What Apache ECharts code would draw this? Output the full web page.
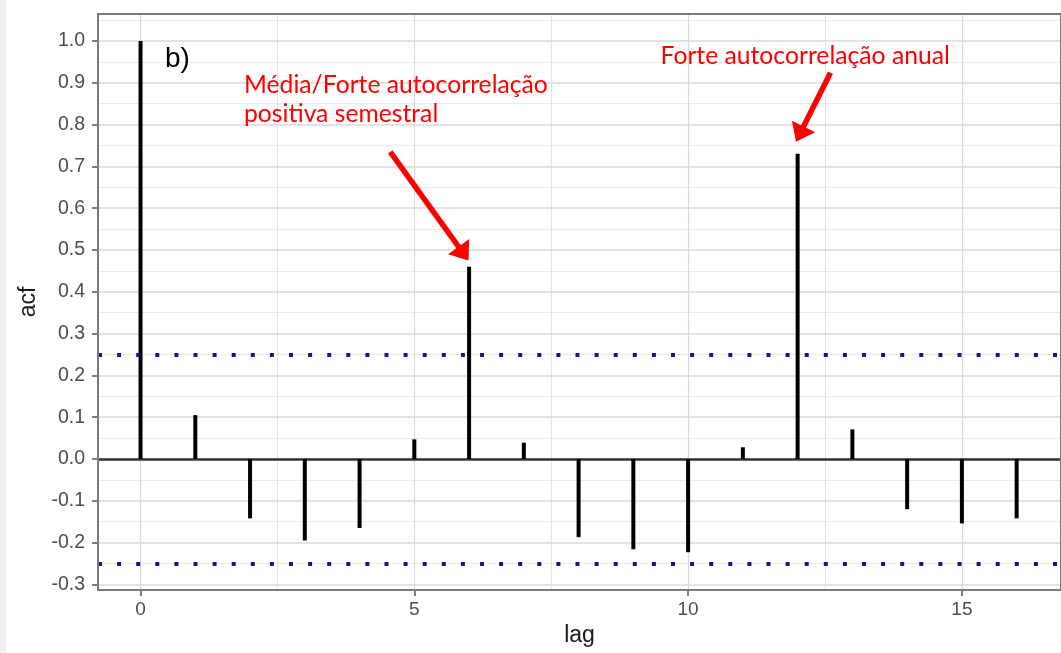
<!DOCTYPE html>
<html>
<head>
<meta charset="utf-8">
<script src="https://cdn.jsdelivr.net/npm/echarts@6/dist/echarts.min.js"></script>
<style>
  html, body { margin: 0; padding: 0; background: #ffffff; }
  #chart { width: 1061px; height: 653px; }
</style>
</head>
<body>
<div id="chart"></div>
<script>
// Sample autocorrelation function by lag
const lags = [0, 1, 2, 3, 4, 5, 6, 7, 8, 9, 10, 11, 12, 13, 14, 15, 16];
const acfValues = [1.0, 0.105, -0.142, -0.195, -0.165, 0.047, 0.46, 0.039,
                   -0.187, -0.216, -0.223, 0.028, 0.73, 0.071, -0.12, -0.154, -0.142];

// Significance bounds
const confBounds = [0.25, -0.25];

// Axis ranges, ticks and grid lines
const xRange = [-0.777, 16.81];
const yRange = [-0.3134, 1.0646];
const xTickValues = [0, 5, 10, 15];
const xMinorGrid = [2.5, 7.5, 12.5];
const yTickValues = [-0.3, -0.2, -0.1, 0.0, 0.1, 0.2, 0.3, 0.4, 0.5, 0.6, 0.7, 0.8, 0.9, 1.0];
const yMinorGrid = [-0.25, -0.15, -0.05, 0.05, 0.15, 0.25, 0.35, 0.45, 0.55, 0.65, 0.75, 0.85, 0.95, 1.05];

// Panel tag and callouts
const panelTag = 'b)';
const semestralText = ['Média/Forte autocorrelação', 'positiva semestral'];
const anualText = ['Forte autocorrelação anual'];
// Arrow endpoints in (lag, acf) space: [start, tip]
const semestralArrow = [[4.56, 0.735], [5.99, 0.475]];
const anualArrow = [[12.60, 0.924], [11.97, 0.759]];

const chart = echarts.init(document.getElementById('chart'), null, { renderer: 'canvas' });

function lineMarker(values, axisKey, style, z) {
  return {
    type: 'line',
    data: [],
    silent: true,
    z: z,
    markLine: {
      silent: true,
      z: z,
      symbol: 'none',
      animation: false,
      label: { show: false },
      emphasis: { disabled: true },
      lineStyle: style,
      data: values.map(v => ({ [axisKey]: v }))
    }
  };
}

const axisFont = 'Liberation Sans, Arial, sans-serif';

chart.setOption({
  animation: false,
  backgroundColor: '#ffffff',
  grid: {
    left: 98, top: 14, right: -10, bottom: 63,
    show: true,
    z: 5,
    backgroundColor: 'transparent',
    borderColor: '#7a7a7a',
    borderWidth: 2
  },
  xAxis: {
    type: 'value',
    min: xRange[0], max: xRange[1],
    name: 'lag',
    nameLocation: 'middle',
    nameGap: 34,
    nameTextStyle: { fontFamily: axisFont, fontSize: 23, color: '#1a1a1a' },
    axisLine: { show: false, onZero: false },
    axisTick: { show: true, length: 6, customValues: xTickValues,
                lineStyle: { color: '#555555', width: 1.5 } },
    axisLabel: { customValues: xTickValues, margin: 10,
                 fontFamily: axisFont, fontSize: 19, color: '#4d4d4d' },
    splitLine: { show: false }
  },
  yAxis: {
    type: 'value',
    min: yRange[0], max: yRange[1],
    name: 'acf',
    nameLocation: 'middle',
    nameGap: 56,
    nameTextStyle: { fontFamily: axisFont, fontSize: 23, color: '#1a1a1a' },
    axisLine: { show: false, onZero: false },
    axisTick: { show: true, length: 6, customValues: yTickValues,
                lineStyle: { color: '#555555', width: 1.5 } },
    axisLabel: { customValues: yTickValues, margin: 13,
                 fontFamily: axisFont, fontSize: 19.5, color: '#4d4d4d',
                 formatter: v => v.toFixed(1) },
    splitLine: { show: false }
  },
  series: [
    lineMarker(yMinorGrid, 'yAxis', { color: '#ebebeb', width: 1, type: 'solid' }, 1),
    lineMarker(xMinorGrid, 'xAxis', { color: '#e3e3e3', width: 1, type: 'solid' }, 1),
    lineMarker(yTickValues, 'yAxis', { color: '#dadada', width: 1.6, type: 'solid' }, 1),
    lineMarker(xTickValues, 'xAxis', { color: '#dadada', width: 1.2, type: 'solid' }, 1),
    lineMarker([0], 'yAxis', { color: '#333333', width: 2.6, type: 'solid' }, 2),
    {
      type: 'bar',
      z: 3,
      barWidth: 4,
      silent: true,
      itemStyle: { color: '#000000' },
      data: lags.map((l, i) => [l, acfValues[i]])
    },
    lineMarker(confBounds, 'yAxis',
      { color: '#16168c', width: 4, type: [4, 15.1], cap: 'butt' }, 4)
  ]
});

// Callout arrows anchored to data coordinates
function arrowGraphics(pts) {
  const p0 = chart.convertToPixel({ gridIndex: 0 }, pts[0]);
  const p1 = chart.convertToPixel({ gridIndex: 0 }, pts[1]);
  const dx = p1[0] - p0[0], dy = p1[1] - p0[1];
  const len = Math.hypot(dx, dy);
  const ux = dx / len, uy = dy / len;
  const headLen = 17, headHalf = 13;
  const bx = p1[0] - ux * headLen, by = p1[1] - uy * headLen;
  return [
    { type: 'line', z: 10, silent: true,
      shape: { x1: p0[0], y1: p0[1], x2: bx + ux * 2, y2: by + uy * 2 },
      style: { stroke: '#ff0000', lineWidth: 5.5 } },
    { type: 'polygon', z: 10, silent: true,
      shape: { points: [[p1[0], p1[1]],
                        [bx - uy * headHalf, by + ux * headHalf],
                        [bx + uy * headHalf, by - ux * headHalf]] },
      style: { fill: '#ff0000' } }
  ];
}

const calloutFont = '24.7px Lato, "Open Sans", sans-serif';
const graphics = [
  { type: 'rect', z: 20, silent: true, shape: { x: 0, y: 0, width: 6, height: 653 },
    style: { fill: '#eeeff2' } },
  { type: 'text', z: 10, silent: true, x: 165, y: 59.6,
    style: { text: panelTag, font: '28px "Liberation Sans", Arial, sans-serif',
             fill: '#000000', align: 'left', verticalAlign: 'middle' } },
  { type: 'text', z: 10, silent: true, x: 244, y: 85,
    style: { text: semestralText[0], font: calloutFont, fill: '#ff0000',
             align: 'left', verticalAlign: 'middle' } },
  { type: 'text', z: 10, silent: true, x: 244, y: 114.4,
    style: { text: semestralText[1], font: calloutFont, fill: '#ff0000',
             align: 'left', verticalAlign: 'middle' } },
  { type: 'text', z: 10, silent: true, x: 660.5, y: 56,
    style: { text: anualText[0], font: calloutFont, fill: '#ff0000',
             align: 'left', verticalAlign: 'middle' } }
].concat(arrowGraphics(semestralArrow), arrowGraphics(anualArrow));

chart.setOption({ graphic: { elements: graphics } });
</script>
</body>
</html>
